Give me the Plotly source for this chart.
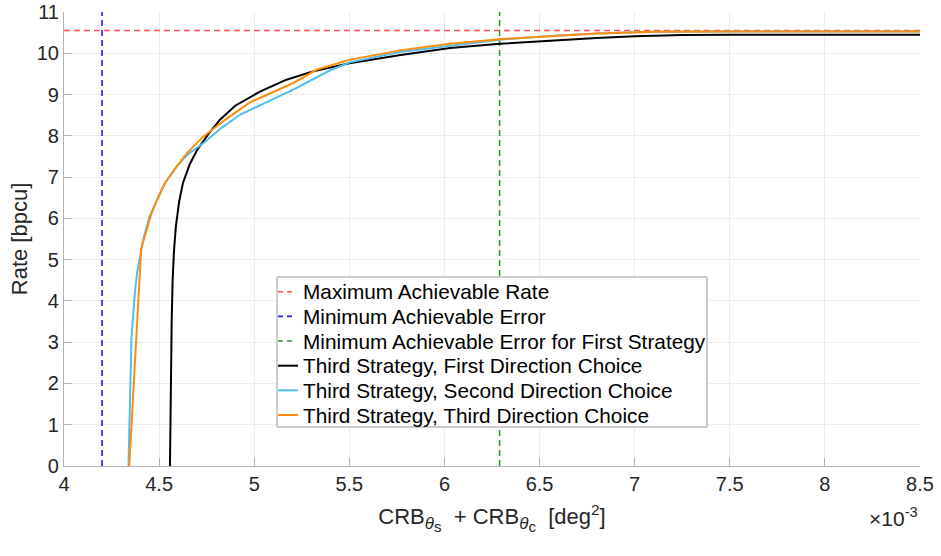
import plotly.graph_objects as go

# x values are in units of 1e-3 deg^2
black_x = [4.557, 4.561, 4.566, 4.571, 4.578, 4.588, 4.605, 4.625, 4.66, 4.70, 4.76, 4.82, 4.90, 5.03, 5.17, 5.30, 5.50, 5.77, 6.03, 6.29, 6.55, 6.80, 7.00, 7.25, 7.50, 8.00, 8.50]
black_y = [0.0, 2.0, 3.5, 4.5, 5.2, 5.8, 6.4, 6.85, 7.3, 7.66, 8.05, 8.39, 8.73, 9.07, 9.36, 9.55, 9.76, 9.96, 10.13, 10.23, 10.31, 10.37, 10.41, 10.44, 10.45, 10.45, 10.45]

cyan_x = [4.339, 4.355, 4.374, 4.385, 4.397, 4.42, 4.45, 4.488, 4.53, 4.593, 4.65, 4.732, 4.83, 4.925, 5.205, 5.405, 5.502, 5.765, 6.027, 6.29, 6.55, 6.80, 7.10, 7.50, 8.50]
cyan_y = [0.0, 3.13, 4.27, 4.7, 5.0, 5.55, 6.05, 6.45, 6.85, 7.26, 7.55, 7.82, 8.2, 8.51, 9.12, 9.60, 9.78, 10.03, 10.18, 10.33, 10.42, 10.48, 10.52, 10.53, 10.53]

orange_x = [4.343, 4.392, 4.406, 4.43, 4.455, 4.488, 4.53, 4.593, 4.65, 4.732, 4.85, 4.977, 5.205, 5.327, 5.50, 5.765, 6.03, 6.29, 6.55, 6.80, 7.10, 7.50, 8.50]
orange_y = [0.0, 4.02, 5.28, 5.65, 6.05, 6.45, 6.85, 7.26, 7.6, 7.98, 8.4, 8.81, 9.28, 9.60, 9.84, 10.07, 10.23, 10.34, 10.42, 10.48, 10.52, 10.53, 10.53]

max_rate = 10.55
min_error = 4.2
min_error_first = 6.29

x_range = [4, 8.5]
y_range = [0, 11]
x_ticks = [4, 4.5, 5, 5.5, 6, 6.5, 7, 7.5, 8, 8.5]
x_ticktext = ["4", "4.5", "5", "5.5", "6", "6.5", "7", "7.5", "8", "8.5"]
y_ticks = list(range(0, 12))
y_ticktext = [str(v) for v in y_ticks]

names = [
    "Maximum Achievable Rate",
    "Minimum Achievable Error",
    "Minimum Achievable Error for First Strategy",
    "Third Strategy, First Direction Choice",
    "Third Strategy, Second Direction Choice",
    "Third Strategy, Third Direction Choice",
]
colors = ["#ff4f4f", "#1f1fe6", "#2e9a2e", "#000000", "#4DBEEE", "#FF8C0A"]
dashed = [True, True, True, False, False, False]

W, H = 941, 556
ML, MR, MT, MB = 64, 21, 12, 90
PW, PH = W - ML - MR, H - MT - MB

fig = go.Figure()
dash = "6px,4px"
fig.add_trace(go.Scatter(x=x_range, y=[max_rate, max_rate], mode="lines", name=names[0],
                         line=dict(color=colors[0], width=1.6, dash=dash)))
fig.add_trace(go.Scatter(x=[min_error, min_error], y=y_range, mode="lines", name=names[1],
                         line=dict(color=colors[1], width=1.6, dash=dash)))
fig.add_trace(go.Scatter(x=[min_error_first, min_error_first], y=y_range, mode="lines", name=names[2],
                         line=dict(color=colors[2], width=1.6, dash=dash)))
fig.add_trace(go.Scatter(x=black_x, y=black_y, mode="lines", name=names[3],
                         line=dict(color=colors[3], width=2)))
fig.add_trace(go.Scatter(x=cyan_x, y=cyan_y, mode="lines", name=names[4],
                         line=dict(color=colors[4], width=2)))
fig.add_trace(go.Scatter(x=orange_x, y=orange_y, mode="lines", name=names[5],
                         line=dict(color=colors[5], width=2)))

font_family = "Liberation Sans, Arial, Helvetica, sans-serif"

xtitle = ("CRB<sub><span style='font-size:17px'><i>θ</i></span>"
          "<sub><span style='font-size:15px'>s</span></sub></sub>  + "
          "CRB<sub><span style='font-size:17px'><i>θ</i></span>"
          "<sub><span style='font-size:15px'>c</span></sub></sub>  [deg<sup>2</sup>]")

fig.update_layout(
    width=W, height=H,
    margin=dict(l=ML, r=MR, t=MT, b=MB, autoexpand=False),
    paper_bgcolor="white", plot_bgcolor="white",
    font=dict(family=font_family, size=20, color="#262626"),
    showlegend=False,
    xaxis=dict(range=x_range, tickvals=x_ticks, ticktext=x_ticktext, automargin=False,
               showgrid=True, gridcolor="#ececec", gridwidth=1,
               showline=True, linecolor="#b3b3b3", linewidth=1.2, mirror=False,
               ticks="inside", ticklen=8, tickcolor="#b3b3b3", zeroline=False,
               tickfont=dict(size=20, color="#262626"),
               title=dict(text=xtitle, font=dict(size=22, color="#262626"), standoff=14)),
    yaxis=dict(range=y_range, tickvals=y_ticks, ticktext=y_ticktext, automargin=False,
               showgrid=True, gridcolor="#ececec", gridwidth=1,
               showline=True, linecolor="#b3b3b3", linewidth=1.2, mirror=False,
               ticks="inside", ticklen=8, tickcolor="#b3b3b3", zeroline=False,
               tickfont=dict(size=20, color="#262626"),
               title=dict(text="Rate [bpcu]", font=dict(size=22, color="#262626"), standoff=2)),
)

# ---- legend box (drawn in paper coordinates, MATLAB-style compact legend) ----
def px2paper(px, py):
    return (px - ML) / PW, (H - MB - py) / PH

box_l, box_t, box_r, box_b = 277, 277, 707, 427
x0, y0 = px2paper(box_l, box_b)
x1, y1 = px2paper(box_r, box_t)
fig.add_shape(type="rect", xref="paper", yref="paper", x0=x0, y0=y0, x1=x1, y1=y1,
              fillcolor="white", line=dict(color="#9a9a9a", width=1), layer="above")
row_y0, row_dy = 291.7, 24.66
for i, name in enumerate(names):
    ry = row_y0 + i * row_dy
    sx0, sy = px2paper(278, ry)
    sx1, _ = px2paper(295 if dashed[i] else 298, ry)
    fig.add_shape(type="line", xref="paper", yref="paper", x0=sx0, x1=sx1, y0=sy, y1=sy,
                  line=dict(color=colors[i], width=1.6 if dashed[i] else 2,
                            dash="5px,4px" if dashed[i] else "solid"), layer="above")
    tx, ty = px2paper(301, ry)
    fig.add_annotation(text=name, xref="paper", yref="paper", x=tx, y=ty,
                       xanchor="left", yanchor="middle", showarrow=False,
                       font=dict(size=20.8, color="#000000", family=font_family))

fig.add_annotation(text="×10<sup>-3</sup>", xref="paper", yref="paper", x=1.0, y=-0.08,
                   xanchor="right", yanchor="top", showarrow=False,
                   font=dict(size=21, color="#262626", family=font_family))

fig.write_html("out.html", config={"displayModeBar": False},
               post_script="document.body.style.margin='0';")
